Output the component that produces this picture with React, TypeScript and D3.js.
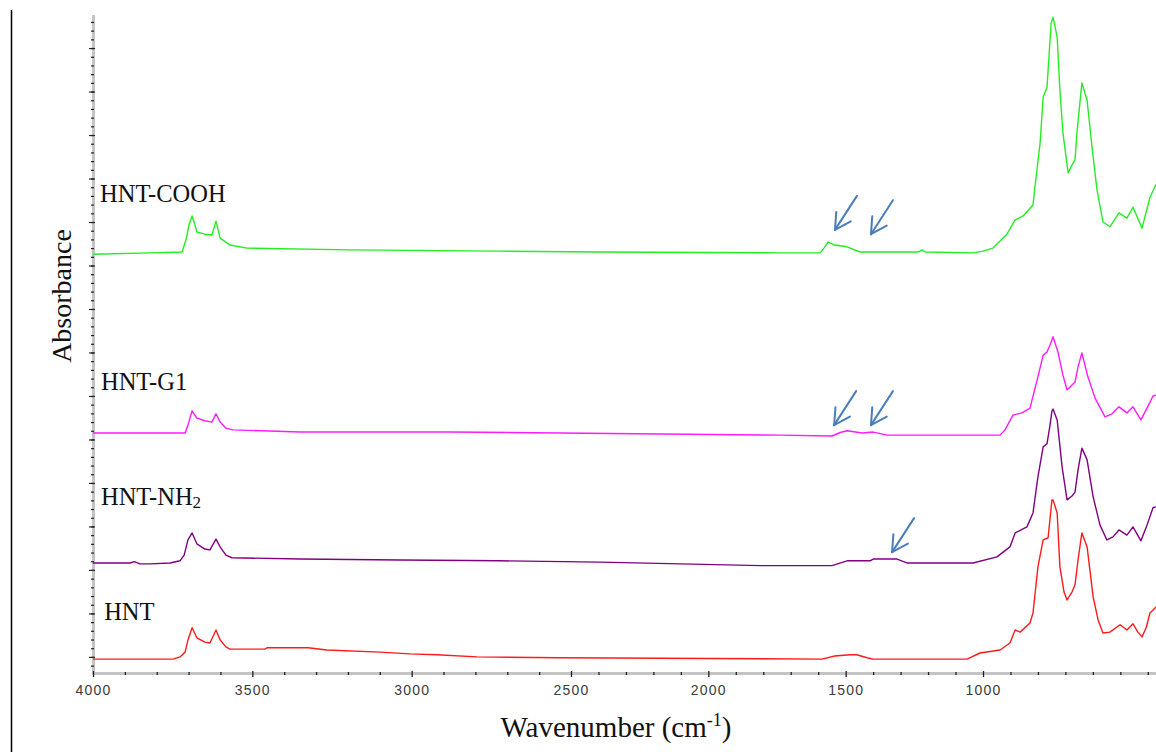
import React, { useRef, useEffect } from "react";
import { select, scaleLinear, line, axisBottom, axisLeft, range } from "d3";

// wavenumber (cm-1), absorbance (stacked, arbitrary units)
const hnt: [number, number][] = [
  [4000, -0.005], [3749, -0.005], [3727, 0], [3711, 0.011], [3702, 0.039], [3689, 0.067], [3674, 0.044],
  [3649, 0.034], [3633, 0.032], [3614, 0.062], [3601, 0.039], [3583, 0.023], [3570, 0.018], [3460, 0.018],
  [3454, 0.021], [3325, 0.021], [3266, 0.016], [3099, 0.011], [3005, 0.007], [2921, 0.005], [2795, 0],
  [2535, -0.002], [1586, -0.005], [1540, 0.002], [1484, 0.005], [1460, 0.005], [1422, -0.002], [1400, -0.005],
  [1058, -0.005], [1011, 0.009], [938, 0.016], [902, 0.032], [883, 0.062], [865, 0.057], [829, 0.078],
  [818, 0.101], [800, 0.207], [781, 0.269], [763, 0.274], [749, 0.361], [745, 0.361], [730, 0.331], [720, 0.207],
  [705, 0.149], [694, 0.131], [676, 0.149], [665, 0.166], [654, 0.223], [640, 0.285], [621, 0.253], [599, 0.138],
  [581, 0.085], [563, 0.055], [538, 0.057], [501, 0.074], [476, 0.062], [454, 0.076], [436, 0.057], [421, 0.046],
  [406, 0.067], [392, 0.101], [370, 0.115],
];

const hntNH2: [number, number][] = [
  [4000, 0.216], [3884, 0.216], [3870, 0.219], [3853, 0.214], [3821, 0.214], [3758, 0.216], [3727, 0.221],
  [3714, 0.234], [3702, 0.269], [3689, 0.285], [3674, 0.26], [3649, 0.248], [3633, 0.246], [3614, 0.271],
  [3601, 0.253], [3583, 0.234], [3564, 0.228], [3350, 0.225], [3037, 0.223], [2723, 0.221], [2394, 0.218],
  [1808, 0.21], [1550, 0.21], [1495, 0.221], [1411, 0.221], [1400, 0.225], [1313, 0.225], [1277, 0.216],
  [1036, 0.216], [949, 0.23], [902, 0.253], [883, 0.285], [840, 0.299], [818, 0.331], [800, 0.414], [781, 0.483],
  [767, 0.49], [756, 0.533], [749, 0.565], [745, 0.57], [730, 0.545], [712, 0.437], [694, 0.361], [676, 0.37],
  [665, 0.379], [654, 0.43], [640, 0.48], [621, 0.453], [599, 0.368], [574, 0.303], [549, 0.269], [527, 0.276],
  [505, 0.292], [476, 0.28], [454, 0.299], [425, 0.267], [403, 0.303], [381, 0.343], [370, 0.345],
];

const hntG1: [number, number][] = [
  [4000, 0.515], [3711, 0.515], [3702, 0.533], [3689, 0.566], [3674, 0.549], [3649, 0.543], [3627, 0.54],
  [3614, 0.559], [3601, 0.54], [3583, 0.526], [3561, 0.522], [3350, 0.517], [2880, 0.517], [2535, 0.515],
  [1739, 0.51], [1550, 0.508], [1520, 0.516], [1495, 0.52], [1440, 0.515], [1400, 0.517], [1349, 0.51],
  [938, 0.51], [920, 0.522], [891, 0.556], [858, 0.561], [829, 0.572], [800, 0.644], [781, 0.694], [767, 0.701],
  [756, 0.717], [745, 0.736], [727, 0.701], [709, 0.648], [694, 0.614], [665, 0.632], [654, 0.667], [640, 0.699],
  [618, 0.644], [592, 0.595], [556, 0.552], [530, 0.559], [505, 0.575], [476, 0.561], [454, 0.575], [425, 0.545],
  [403, 0.572], [381, 0.6], [370, 0.602],
];

const hntCOOH: [number, number][] = [
  [4000, 0.926], [3821, 0.929], [3721, 0.931], [3708, 0.959], [3699, 0.993], [3689, 1.014], [3680, 0.993],
  [3674, 0.977], [3649, 0.972], [3627, 0.97], [3614, 1.002], [3601, 0.963], [3570, 0.947], [3517, 0.94],
  [3194, 0.936], [2723, 0.933], [2394, 0.931], [1739, 0.929], [1593, 0.929], [1579, 0.94], [1564, 0.954],
  [1540, 0.947], [1495, 0.943], [1448, 0.931], [1235, 0.931], [1222, 0.936], [1210, 0.931], [1036, 0.929],
  [1000, 0.933], [964, 0.94], [913, 0.972], [883, 1.005], [854, 1.014], [818, 1.039], [811, 1.08], [792, 1.182],
  [781, 1.287], [767, 1.31], [752, 1.457], [745, 1.471], [730, 1.425], [720, 1.303], [709, 1.205], [690, 1.113],
  [676, 1.131], [665, 1.143], [658, 1.205], [640, 1.32], [621, 1.28], [603, 1.172], [585, 1.074], [563, 1.0],
  [538, 0.989], [505, 1.021], [476, 1.009], [454, 1.034], [421, 0.986], [392, 1.057], [370, 1.087],
];

const seriesNames = ["HNT", "HNT-NH2", "HNT-G1", "HNT-COOH"];
const seriesData = [hnt, hntNH2, hntG1, hntCOOH];
const seriesColors = ["#ff1a1a", "#800080", "#ff1aff", "#22ee22"];
// label anchor: [wavenumber, absorbance] of the text baseline start
const labelAnchors: [number, number][] = [[3965, 0.085], [3975, 0.349], [3975, 0.614], [3978, 1.046]];
// arrow tips [wavenumber, absorbance]
const arrowTips: [number, number][] = [[1539, 0.982], [1408, 0.972], [1542, 0.533], [1408, 0.533], [1331, 0.241]];

const xMajor = [4000, 3500, 3000, 2500, 2000, 1500, 1000];
const xMinor = range(4000, 350, -100).filter((v) => !xMajor.includes(v));
const yMajor = range(0, 1.41, 0.1);
const yMinor = range(-0.02, 1.47, 0.02);

const W = 1156, H = 752;

function App() {
  const svgRef = useRef<SVGSVGElement>(null);

  useEffect(() => {
    document.body.style.margin = "0";
    const svg = select(svgRef.current);
    svg.selectAll("*").remove();

    const x = scaleLinear().domain([4000, 2500, 1000]).range([93, 571, 983]);
    const y = scaleLinear().domain([-0.037, 1.476]).range([673, 15]);

    // outer black line on the left
    svg.append("line").attr("x1", 11.5).attr("x2", 11.5).attr("y1", 10).attr("y2", H)
      .attr("stroke", "#000").attr("stroke-width", 1.5);

    // axis bands
    svg.append("line").attr("x1", 93.5).attr("x2", 93.5).attr("y1", y.range()[1]).attr("y2", 674.5)
      .attr("stroke", "#c4c4c4").attr("stroke-width", 3);
    svg.append("line").attr("x1", 92).attr("x2", W).attr("y1", 673.5).attr("y2", 673.5)
      .attr("stroke", "#c4c4c4").attr("stroke-width", 3);

    // bottom ticks
    const gx = svg.append("g").attr("transform", "translate(0,672)");
    gx.call(axisBottom(x).tickValues(xMinor).tickSize(3).tickFormat(() => ""));
    const gx2 = svg.append("g").attr("transform", "translate(0,671)");
    gx2.call(axisBottom(x).tickValues(xMajor).tickSize(6).tickPadding(8).tickFormat((d) => String(d)));
    [gx, gx2].forEach((g) => {
      g.select(".domain").remove();
      g.selectAll("line").attr("stroke", "#222").attr("stroke-width", 1.3);
    });
    gx2.selectAll("text")
      .attr("fill", "#3a3a3a")
      .style("font-family", "Arial, 'Liberation Sans', sans-serif")
      .style("font-size", "14px")
      .style("letter-spacing", "1.2px");

    // left ticks
    const gy = svg.append("g").attr("transform", "translate(94,0)");
    gy.call(axisLeft(y).tickValues(yMinor).tickSize(3).tickFormat(() => ""));
    const gy2 = svg.append("g").attr("transform", "translate(95,0)");
    gy2.call(axisLeft(y).tickValues(yMajor).tickSize(6).tickFormat(() => ""));
    [gy, gy2].forEach((g) => {
      g.select(".domain").remove();
      g.selectAll("line").attr("stroke", "#222").attr("stroke-width", 1.2);
    });

    // spectra
    const path = line<[number, number]>().x((d) => x(d[0])).y((d) => y(d[1]));
    svg.append("g").selectAll("path").data(seriesData).join("path")
      .attr("d", (d) => path(d))
      .attr("fill", "none")
      .attr("stroke", (_, i) => seriesColors[i])
      .attr("stroke-width", 1.4)
      .attr("stroke-linejoin", "round");

    // labels
    const serif = "'Times New Roman', 'Liberation Serif', serif";
    seriesNames.forEach((name, i) => {
      const t = svg.append("text")
        .attr("x", x(labelAnchors[i][0])).attr("y", y(labelAnchors[i][1]))
        .attr("fill", "#111").style("font-family", serif).style("font-size", "24.5px");
      if (name.endsWith("2")) {
        t.append("tspan").text(name.slice(0, -1));
        t.append("tspan").text("2").attr("dy", 3).style("font-size", "17px");
      } else {
        t.text(name);
      }
    });

    // arrows
    const ux = 22 / 40.5, uy = -34 / 40.5;
    const rot = (a: number) => [ux * Math.cos(a) - uy * Math.sin(a), ux * Math.sin(a) + uy * Math.cos(a)];
    const arms = [rot(0.5), rot(-0.5)];
    const ag = svg.append("g").attr("stroke", "#4a7ebb").attr("stroke-width", 2).attr("fill", "none")
      .attr("stroke-linecap", "round");
    arrowTips.forEach(([wn, a]) => {
      const tx = x(wn), ty = y(a);
      ag.append("line").attr("x1", tx).attr("y1", ty).attr("x2", tx + ux * 40.5).attr("y2", ty + uy * 40.5);
      arms.forEach(([ax, ay]) => {
        ag.append("line").attr("x1", tx).attr("y1", ty).attr("x2", tx + ax * 18).attr("y2", ty + ay * 18);
      });
    });

    // axis titles
    const xt = svg.append("text").attr("x", 616).attr("y", 737).attr("text-anchor", "middle")
      .attr("fill", "#111").style("font-family", serif).style("font-size", "29px");
    xt.append("tspan").text("Wavenumber (cm");
    xt.append("tspan").text("-1").attr("dy", -11).style("font-size", "18px");
    xt.append("tspan").text(")").attr("dy", 11);

    svg.append("text").attr("transform", "translate(71,296) rotate(-90)").attr("text-anchor", "middle")
      .attr("fill", "#111").style("font-family", serif).style("font-size", "28px")
      .text("Absorbance");
  }, []);

  return <svg ref={svgRef} width={W} height={H} style={{ display: "block", background: "#fff" }} />;
}

export default App;
